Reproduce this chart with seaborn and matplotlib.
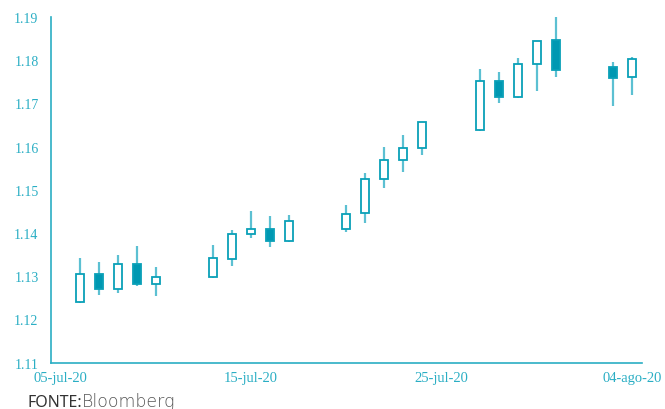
import matplotlib
matplotlib.use("Agg")
import matplotlib.pyplot as plt
import matplotlib.dates as mdates
import matplotlib.transforms as mtransforms
import seaborn as sns
import pandas as pd
import numpy as np

dates = ["2020-07-06", "2020-07-07", "2020-07-08", "2020-07-09", "2020-07-10",
         "2020-07-13", "2020-07-14", "2020-07-15", "2020-07-16", "2020-07-17",
         "2020-07-20", "2020-07-21", "2020-07-22", "2020-07-23", "2020-07-24",
         "2020-07-27", "2020-07-28", "2020-07-29", "2020-07-30", "2020-07-31",
         "2020-08-03", "2020-08-04"]
open_ = [1.1240, 1.1306, 1.1271, 1.1327, 1.1281,
         1.1297, 1.1339, 1.1397, 1.1410, 1.1382,
         1.1410, 1.1446, 1.1524, 1.1568, 1.1596,
         1.1638, 1.1752, 1.1714, 1.1792, 1.1846,
         1.1784, 1.1760]
high = [1.1343, 1.1332, 1.1350, 1.1369, 1.1322,
        1.1371, 1.1406, 1.1450, 1.1440, 1.1442,
        1.1464, 1.1538, 1.1598, 1.1626, 1.1657,
        1.1779, 1.1773, 1.1806, 1.1845, 1.1902,
        1.1796, 1.1807]
low = [1.1238, 1.1257, 1.1260, 1.1277, 1.1253,
       1.1296, 1.1323, 1.1389, 1.1368, 1.1378,
       1.1402, 1.1422, 1.1505, 1.1540, 1.1580,
       1.1637, 1.1700, 1.1713, 1.1729, 1.1761,
       1.1694, 1.1720]
close = [1.1306, 1.1271, 1.1327, 1.1281, 1.1297,
         1.1341, 1.1397, 1.1409, 1.1381, 1.1427,
         1.1445, 1.1524, 1.1568, 1.1596, 1.1656,
         1.1751, 1.1714, 1.1791, 1.1844, 1.1777,
         1.1759, 1.1803]

tick_dates = ["2020-07-05", "2020-07-15", "2020-07-25", "2020-08-04"]
tick_labels = ["05-jul-20", "15-jul-20", "25-jul-20", "04-ago-20"]
y_ticks = [1.11, 1.12, 1.13, 1.14, 1.15, 1.16, 1.17, 1.18, 1.19]
source_label = "FONTE:"
source_name = "Bloomberg"

df = pd.DataFrame({"date": pd.to_datetime(dates), "open": open_, "high": high,
                   "low": low, "close": close})
df["x"] = df["date"] + pd.Timedelta(hours=12)
df["up"] = df["close"] >= df["open"]

sns.set_theme(style="white")
plt.rcParams['font.family'] = ['Liberation Serif', 'DejaVu Serif']

TEAL = "#0aa0b8"
FILL = "#0098b2"
AXC = "#2aaec4"

fig = plt.figure(figsize=(6.65, 4.10), dpi=100)
ax = fig.add_axes([0.0767, 0.1134, 0.888, 0.8426])

xn = mdates.date2num(df["x"])
width = 0.42
ax.vlines(xn, df["low"], df["high"], color="#5cc0d2", linewidth=1.6, zorder=1)
bottoms = np.minimum(df["open"], df["close"])
heights = np.abs(df["close"] - df["open"])
faces = ["white" if u else FILL for u in df["up"]]
ax.bar(xn, heights, bottom=bottoms, width=width, color=faces,
       edgecolor=TEAL, linewidth=1.3, zorder=2)

x0 = mdates.date2num(pd.Timestamp("2020-07-05"))
ax.set_xlim(x0, x0 + 31)
ax.set_ylim(1.11, 1.19)
ax.set_yticks(y_ticks)
ax.set_yticklabels([f"{v:.2f}" for v in y_ticks])
ax.set_xticks(mdates.date2num(pd.to_datetime(tick_dates)))
ax.set_xticklabels(tick_labels)

for s in ["top", "right"]:
    ax.spines[s].set_visible(False)
for s in ["left", "bottom"]:
    ax.spines[s].set_color(AXC)
    ax.spines[s].set_linewidth(1.2)
ax.tick_params(axis="y", length=0, pad=9, labelsize=10, labelcolor=AXC)
ax.tick_params(axis="x", length=3, width=1, color=AXC, direction="out", pad=3,
               labelsize=10.5, labelcolor=AXC)
ax.grid(False)

offset = mtransforms.ScaledTranslation(9.5 / 100, 0, fig.dpi_scale_trans)
for lab in ax.get_xticklabels():
    lab.set_transform(lab.get_transform() + offset)

t1 = fig.text(27/665, 1 - 407/410, source_label, fontsize=11.5, color="#333333",
              family=["Noto Sans", "DejaVu Sans"], weight="medium", va="baseline")
fig.canvas.draw()
bb = t1.get_window_extent(renderer=fig.canvas.get_renderer())
fig.text((bb.x1 + 0.5) / 665, 1 - 407/410, source_name, fontsize=12.5, color="#555555",
         family=["DejaVu Sans"], weight="light", va="baseline")

fig.savefig("out.png", dpi=100)
